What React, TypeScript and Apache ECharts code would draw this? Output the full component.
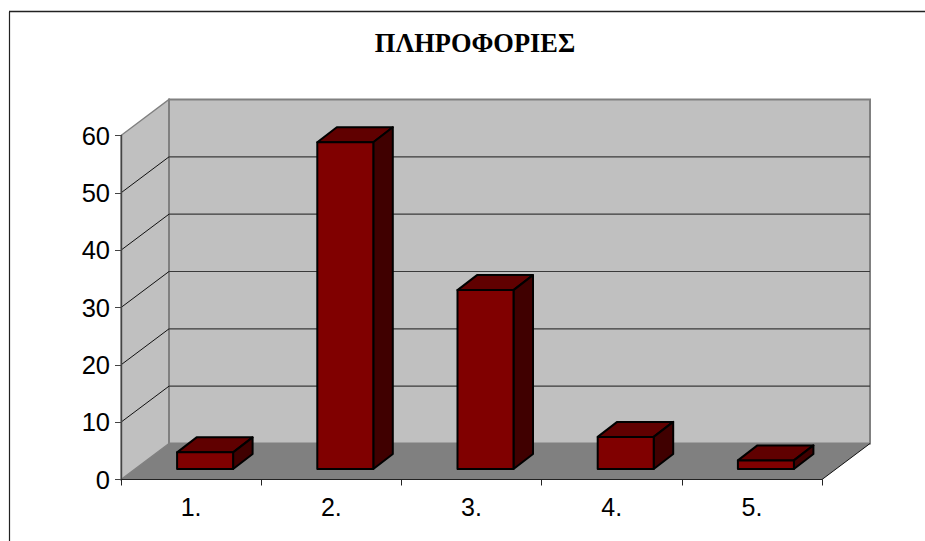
import React, { useEffect, useRef } from "react";
import * as echarts from "echarts";

const categories = ["1.", "2.", "3.", "4.", "5."];
const values = [2.9, 57, 31.2, 5.6, 1.5];
const yTicks = [0, 10, 20, 30, 40, 50, 60];
const titleText = "ΠΛΗΡΟΦΟΡΙΕΣ";

const DX = 48;
const DY = -36;
const BAR_W = 56;
const BAR_DX = 19.5;
const BAR_DY = -15;
const BAR_BASE_DROP = -10.5;
const WIDTH = 925;
const HEIGHT = 541;

export default function App() {
  const ref = useRef<HTMLDivElement>(null);
  useEffect(() => {
    const chart = echarts.init(ref.current!, null, { renderer: "svg", width: WIDTH, height: HEIGHT });
    chart.setOption({
      animation: false,
      backgroundColor: "#ffffff",
      title: {
        text: titleText,
        left: 470,
        top: 25,
        textAlign: "center",
        textStyle: { fontFamily: "'Liberation Serif', serif", fontSize: 26.4, fontWeight: "bold", color: "#000" },
      },
      grid: { left: 121, right: 103, top: 135.5, bottom: 61.5, containLabel: false },
      xAxis: {
        type: "category",
        data: categories,
        z: 10,
        axisLine: { show: true, lineStyle: { color: "#222", width: 1.2 } },
        axisTick: { show: true, length: 6, alignWithLabel: false, lineStyle: { color: "#222" } },
        axisLabel: { fontFamily: "'Liberation Sans', sans-serif", fontSize: 25, color: "#000", margin: 15 },
        splitLine: { show: false },
      },
      yAxis: {
        type: "value",
        min: 0,
        max: 60,
        interval: 10,
        z: 10,
        axisLine: { show: true, lineStyle: { color: "#444", width: 1.4 } },
        axisTick: { show: true, length: 6, lineStyle: { color: "#444" } },
        axisLabel: { fontFamily: "'Liberation Sans', sans-serif", fontSize: 25.5, color: "#000", margin: 11 },
        splitLine: { show: false },
      },
      series: [
        {
          type: "custom",
          coordinateSystem: "cartesian2d",
          z: 1,
          silent: true,
          clip: false,
          data: [0],
          encode: { x: -1, y: -1 },
          renderItem: (_p: any, api: any) => {
            const size = api.getWidth();
            const left = 121;
            const right = size - 103;
            const y0 = api.coord([0, 0])[1];
            const yTop = api.coord([0, yTicks[yTicks.length - 1]])[1];
            const children: any[] = [
              {
                type: "polygon",
                shape: { points: [[left, y0], [left + DX, y0 + DY], [left + DX, yTop + DY], [left, yTop]] },
                style: { fill: "#c0c0c0", stroke: "#808080", lineWidth: 1.4 },
              },
              {
                type: "rect",
                shape: { x: left + DX, y: yTop + DY, width: right - left, height: y0 - yTop },
                style: { fill: "#c0c0c0", stroke: "#808080", lineWidth: 2 },
              },
              {
                type: "polygon",
                shape: { points: [[left, y0], [right, y0], [right + DX, y0 + DY], [left + DX, y0 + DY]] },
                style: { fill: "#808080", stroke: "none" },
              },
              {
                type: "line",
                shape: { x1: right, y1: y0, x2: right + DX, y2: y0 + DY },
                style: { stroke: "#111", lineWidth: 1 },
              },
            ];
            yTicks.forEach((t) => {
              if (t === 0 || t === 60) return;
              const y = api.coord([0, t])[1];
              children.push({
                type: "line",
                shape: { x1: left, y1: y, x2: left + DX, y2: y + DY },
                style: { stroke: "#111", lineWidth: 1 },
              });
              children.push({
                type: "line",
                shape: { x1: left + DX, y1: y + DY, x2: right + DX, y2: y + DY },
                style: { stroke: "#3a3a3a", lineWidth: 1.2 },
              });
            });
            return { type: "group", children };
          },
        },
        {
          type: "custom",
          coordinateSystem: "cartesian2d",
          z: 2,
          silent: true,
          clip: false,
          data: values.map((v, i) => [i, v]),
          encode: { x: 0, y: 1 },
          renderItem: (_p: any, api: any) => {
            const i = api.value(0);
            const v = api.value(1);
            const cx = api.coord([i, 0])[0];
            const base = api.coord([i, 0])[1] + BAR_BASE_DROP;
            const top = base - (api.coord([i, 0])[1] - api.coord([i, v])[1]);
            const x0 = cx - 14;
            const x1 = x0 + BAR_W;
            const edge = { stroke: "#000", lineWidth: 2, lineJoin: "round" };
            return {
              type: "group",
              children: [
                {
                  type: "polygon",
                  shape: { points: [[x0, top], [x1, top], [x1 + BAR_DX, top + BAR_DY], [x0 + BAR_DX, top + BAR_DY]] },
                  style: { fill: "#600000", ...edge },
                },
                {
                  type: "polygon",
                  shape: { points: [[x1, top], [x1 + BAR_DX, top + BAR_DY], [x1 + BAR_DX, base + BAR_DY], [x1, base]] },
                  style: { fill: "#400000", ...edge },
                },
                {
                  type: "rect",
                  shape: { x: x0, y: top, width: BAR_W, height: base - top },
                  style: { fill: "#800000", ...edge },
                },
              ],
            };
          },
        },
      ],
      graphic: [
        { type: "line", z: 20, shape: { x1: 9.5, y1: 12, x2: 9.5, y2: HEIGHT }, style: { stroke: "#222", lineWidth: 1.2 } },
        { type: "line", z: 20, shape: { x1: 9, y1: 11.5, x2: WIDTH, y2: 11.5 }, style: { stroke: "#222", lineWidth: 1.5 } },
      ],
    });
    return () => chart.dispose();
  }, []);
  return (
    <div
      ref={ref}
      style={{ position: "fixed", left: 0, top: 0, width: WIDTH, height: HEIGHT, overflow: "hidden" }}
    />
  );
}
